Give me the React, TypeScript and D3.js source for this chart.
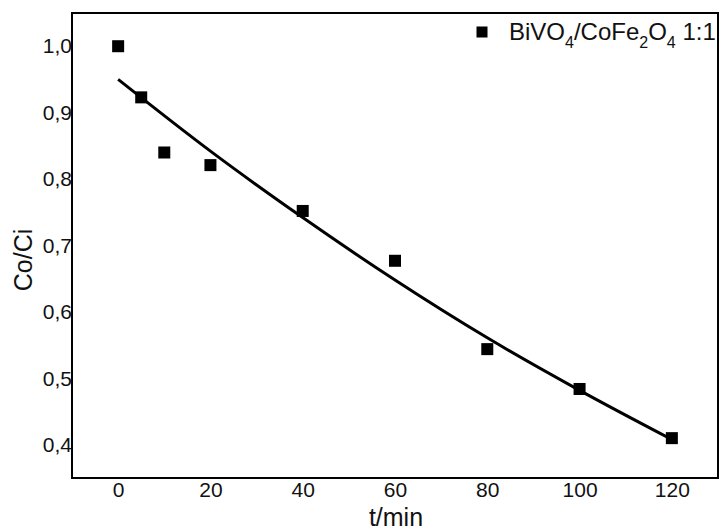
import React, { useRef, useEffect } from "react";
import * as d3 from "d3";

// measured points
const times = [0, 5, 10, 20, 40, 60, 80, 100, 120];
const ratios = [1.0, 0.923, 0.84, 0.821, 0.752, 0.677, 0.544, 0.484, 0.41];

// fitted curve
const fitTimes = [0, 20, 40, 60, 80, 100, 120];
const fitRatios = [0.95, 0.842, 0.742, 0.648, 0.561, 0.482, 0.408];

const xTicks = [0, 20, 40, 60, 80, 100, 120];
const yTicks = [0.4, 0.5, 0.6, 0.7, 0.8, 0.9, 1.0];

const W = 722;
const H = 531;
const margin = { top: 13, right: 4, bottom: 53, left: 72 };

const App = () => {
  const svgRef = useRef<SVGSVGElement>(null);

  useEffect(() => {
    const svg = d3.select(svgRef.current);
    svg.selectAll("*").remove();

    const x = d3.scaleLinear().domain([-10, 130]).range([margin.left, W - margin.right]);
    const y = d3.scaleLinear().domain([0.35, 1.05]).range([H - margin.bottom, margin.top]);
    const font = "'Liberation Sans', Arial, sans-serif";

    // frame
    svg.append("rect")
      .attr("x", margin.left)
      .attr("y", margin.top)
      .attr("width", W - margin.left - margin.right)
      .attr("height", H - margin.top - margin.bottom)
      .attr("fill", "none")
      .attr("stroke", "#000")
      .attr("stroke-width", 2);

    // x axis (labels only, no ticks)
    const xAxis = svg.append("g")
      .attr("transform", `translate(0,${H - margin.bottom})`)
      .call(d3.axisBottom(x).tickValues(xTicks).tickSize(0).tickPadding(4));
    xAxis.select(".domain").remove();
    xAxis.selectAll("text")
      .style("font-family", font)
      .style("font-size", "21px")
      .attr("fill", "#111");

    const yAxis = svg.append("g")
      .attr("transform", `translate(${margin.left},0)`)
      .call(
        d3.axisLeft(y)
          .tickValues(yTicks)
          .tickSize(0)
          .tickPadding(0)
          .tickFormat((d) => d3.format(".1f")(d as number).replace(".", ","))
      );
    yAxis.select(".domain").remove();
    yAxis.selectAll("text")
      .style("font-family", font)
      .style("font-size", "21px")
      .attr("fill", "#111");

    // axis titles
    svg.append("text")
      .attr("x", 396)
      .attr("y", 526)
      .attr("text-anchor", "middle")
      .style("font-family", font)
      .style("font-size", "25px")
      .attr("fill", "#111")
      .text("t/min");

    svg.append("text")
      .attr("transform", `translate(32,${260}) rotate(-90)`)
      .attr("text-anchor", "middle")
      .style("font-family", font)
      .style("font-size", "25px")
      .attr("fill", "#111")
      .text("Co/Ci");

    // fit line
    const line = d3.line<number>()
      .x((d, i) => x(fitTimes[i]))
      .y((d) => y(d))
      .curve(d3.curveMonotoneX);
    svg.append("path")
      .attr("d", line(fitRatios))
      .attr("fill", "none")
      .attr("stroke", "#000")
      .attr("stroke-width", 3);

    // markers
    const s = 12;
    svg.selectAll("rect.pt")
      .data(ratios)
      .enter()
      .append("rect")
      .attr("class", "pt")
      .attr("x", (d, i) => x(times[i]) - s / 2)
      .attr("y", (d) => y(d) - s / 2)
      .attr("width", s)
      .attr("height", s)
      .attr("fill", "#000");

    // legend
    const lg = svg.append("g").attr("transform", "translate(482,32)");
    lg.append("rect").attr("x", -5.5).attr("y", -5.5).attr("width", 11).attr("height", 11).attr("fill", "#000");
    const t = lg.append("text")
      .attr("x", 27)
      .attr("y", 8)
      .style("font-family", font)
      .style("font-size", "24px")
      .attr("fill", "#111");
    t.append("tspan").text("BiVO");
    t.append("tspan").attr("dy", 8).style("font-size", "16px").text("4");
    t.append("tspan").attr("dy", -8).text("/CoFe");
    t.append("tspan").attr("dy", 8).style("font-size", "16px").text("2");
    t.append("tspan").attr("dy", -8).text("O");
    t.append("tspan").attr("dy", 8).style("font-size", "16px").text("4");
    t.append("tspan").attr("dy", -8).text(" 1:1");
  }, []);

  return (
    <svg
      ref={svgRef}
      width={W}
      height={H}
      style={{ position: "absolute", left: 0, top: 0, background: "white" }}
    />
  );
};

export default App;
